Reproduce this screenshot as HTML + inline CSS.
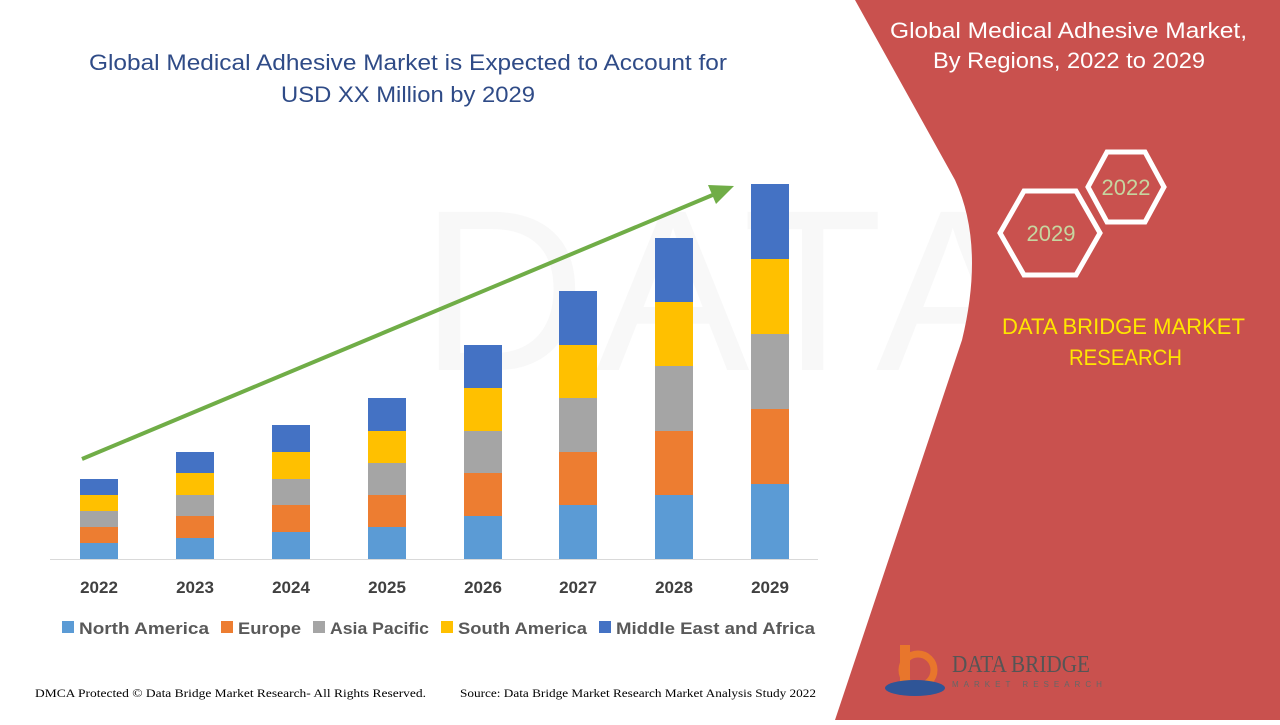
<!DOCTYPE html>
<html><head><meta charset="utf-8"><style>
body{margin:0;width:1280px;height:720px;overflow:hidden;background:#fff;font-family:"Liberation Sans",sans-serif}
</style></head><body>
<svg width="1280" height="720" viewBox="0 0 1280 720" xmlns="http://www.w3.org/2000/svg">
<rect width="1280" height="720" fill="#fff"/>
<g opacity="0.04" fill="#666">
<text x="420" y="370" font-size="230" font-family="Liberation Sans" letter-spacing="10">DATABRIDGE</text>
</g>
<path d="M855,0 L955,180 Q985,245 962,340 L835,720 L1280,720 L1280,0 Z" fill="#c9514e"/>
<g font-family="Liberation Sans" fill="#fff" font-size="22">
<text x="890" y="38" textLength="357" lengthAdjust="spacingAndGlyphs">Global Medical Adhesive Market,</text>
<text x="933" y="68" textLength="272" lengthAdjust="spacingAndGlyphs">By Regions, 2022 to 2029</text>
</g>
<polygon points="1088,187 1107,152 1145,152 1164,187 1145,222 1107,222" fill="none" stroke="#fff" stroke-width="5"/>
<polygon points="1000,233 1024,191 1076,191 1100,233 1076,275 1024,275" fill="none" stroke="#fff" stroke-width="5"/>
<text x="1126" y="195" font-size="22" fill="#c6d6a0" text-anchor="middle">2022</text>
<text x="1051" y="241" font-size="22" fill="#c6d6a0" text-anchor="middle">2029</text>
<g font-size="22" fill="#ffe600">
<text x="1002" y="334" textLength="243" lengthAdjust="spacingAndGlyphs">DATA BRIDGE MARKET</text>
<text x="1069" y="365" textLength="113" lengthAdjust="spacingAndGlyphs">RESEARCH</text>
</g>
<path d="M900,645 L910,645 L910,690 L900,690Z" fill="#e8762c"/>
<circle cx="918" cy="670" r="16" fill="none" stroke="#e8762c" stroke-width="7"/>
<ellipse cx="915" cy="688" rx="30" ry="8" fill="#2f5597"/>
<text x="952" y="672" font-size="24" fill="#555" font-family="Liberation Serif" textLength="138" lengthAdjust="spacingAndGlyphs">DATA BRIDGE</text>
<text x="952" y="687" font-size="8" fill="#666" letter-spacing="5">MARKET RESEARCH</text>
<g font-size="22" fill="#2f4b87">
<text x="89" y="70" textLength="638" lengthAdjust="spacingAndGlyphs">Global Medical Adhesive Market is Expected to Account for</text>
<text x="281" y="102" textLength="254" lengthAdjust="spacingAndGlyphs">USD XX Million by 2029</text>
</g>
<line x1="50" y1="559.5" x2="818" y2="559.5" stroke="#d9d9d9"/>
<g>
<rect x="80" y="543" width="38" height="16" fill="#5b9bd5"/><rect x="80" y="527" width="38" height="16" fill="#ed7d31"/><rect x="80" y="511" width="38" height="16" fill="#a5a5a5"/><rect x="80" y="495" width="38" height="16" fill="#ffc000"/><rect x="80" y="479" width="38" height="16" fill="#4472c4"/>
<rect x="176" y="538" width="38" height="21" fill="#5b9bd5"/><rect x="176" y="516" width="38" height="22" fill="#ed7d31"/><rect x="176" y="495" width="38" height="21" fill="#a5a5a5"/><rect x="176" y="473" width="38" height="22" fill="#ffc000"/><rect x="176" y="452" width="38" height="21" fill="#4472c4"/>
<rect x="272" y="532" width="38" height="27" fill="#5b9bd5"/><rect x="272" y="505" width="38" height="27" fill="#ed7d31"/><rect x="272" y="479" width="38" height="26" fill="#a5a5a5"/><rect x="272" y="452" width="38" height="27" fill="#ffc000"/><rect x="272" y="425" width="38" height="27" fill="#4472c4"/>
<rect x="368" y="527" width="38" height="32" fill="#5b9bd5"/><rect x="368" y="495" width="38" height="32" fill="#ed7d31"/><rect x="368" y="463" width="38" height="32" fill="#a5a5a5"/><rect x="368" y="431" width="38" height="32" fill="#ffc000"/><rect x="368" y="398" width="38" height="33" fill="#4472c4"/>
<rect x="464" y="516" width="38" height="43" fill="#5b9bd5"/><rect x="464" y="473" width="38" height="43" fill="#ed7d31"/><rect x="464" y="431" width="38" height="42" fill="#a5a5a5"/><rect x="464" y="388" width="38" height="43" fill="#ffc000"/><rect x="464" y="345" width="38" height="43" fill="#4472c4"/>
<rect x="559" y="505" width="38" height="54" fill="#5b9bd5"/><rect x="559" y="452" width="38" height="53" fill="#ed7d31"/><rect x="559" y="398" width="38" height="54" fill="#a5a5a5"/><rect x="559" y="345" width="38" height="53" fill="#ffc000"/><rect x="559" y="291" width="38" height="54" fill="#4472c4"/>
<rect x="655" y="495" width="38" height="64" fill="#5b9bd5"/><rect x="655" y="431" width="38" height="64" fill="#ed7d31"/><rect x="655" y="366" width="38" height="65" fill="#a5a5a5"/><rect x="655" y="302" width="38" height="64" fill="#ffc000"/><rect x="655" y="238" width="38" height="64" fill="#4472c4"/>
<rect x="751" y="484" width="38" height="75" fill="#5b9bd5"/><rect x="751" y="409" width="38" height="75" fill="#ed7d31"/><rect x="751" y="334" width="38" height="75" fill="#a5a5a5"/><rect x="751" y="259" width="38" height="75" fill="#ffc000"/><rect x="751" y="184" width="38" height="75" fill="#4472c4"/>
</g>
<line x1="82" y1="459" x2="715" y2="194" stroke="#70ad47" stroke-width="4"/>
<polygon points="734,186 708,185 716,204" fill="#70ad47"/>
<g font-size="17" font-weight="bold" fill="#404040" text-anchor="middle">
<text x="99" y="593">2022</text><text x="195" y="593">2023</text><text x="291" y="593">2024</text><text x="387" y="593">2025</text><text x="483" y="593">2026</text><text x="578" y="593">2027</text><text x="674" y="593">2028</text><text x="770" y="593">2029</text>
</g>
<g font-size="17" font-weight="bold" fill="#595959">
<rect x="62" y="621" width="12" height="12" fill="#5b9bd5"/><text x="79" y="634" textLength="130" lengthAdjust="spacingAndGlyphs">North America</text>
<rect x="221" y="621" width="12" height="12" fill="#ed7d31"/><text x="238" y="634" textLength="63" lengthAdjust="spacingAndGlyphs">Europe</text>
<rect x="313" y="621" width="12" height="12" fill="#a5a5a5"/><text x="330" y="634" textLength="99" lengthAdjust="spacingAndGlyphs">Asia Pacific</text>
<rect x="441" y="621" width="12" height="12" fill="#ffc000"/><text x="458" y="634" textLength="129" lengthAdjust="spacingAndGlyphs">South America</text>
<rect x="599" y="621" width="12" height="12" fill="#4472c4"/><text x="616" y="634" textLength="199" lengthAdjust="spacingAndGlyphs">Middle East and Africa</text>
</g>
<g font-family="Liberation Serif" font-size="12" fill="#000">
<text x="35" y="697" textLength="391" lengthAdjust="spacingAndGlyphs">DMCA Protected © Data Bridge Market Research- All Rights Reserved.</text>
<text x="460" y="697" textLength="356" lengthAdjust="spacingAndGlyphs">Source: Data Bridge Market Research Market Analysis Study 2022</text>
</g>
</svg>
</body></html>
